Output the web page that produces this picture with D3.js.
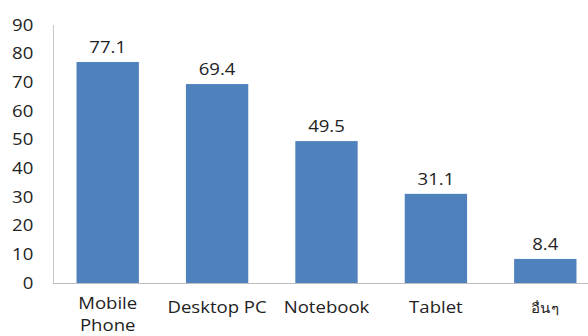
<!DOCTYPE html>
<html>
<head>
<meta charset="utf-8">
<script src="https://cdn.jsdelivr.net/npm/d3@7"></script>
<style>
  html, body { margin: 0; padding: 0; background: #fff; }
  svg { display: block; }
  text { font-family: "Open Sans", "Noto Sans", sans-serif; fill: #222; }
</style>
</head>
<body>
<svg id="chart" width="588" height="336"></svg>
<script>
// Device usage (%)
const categories = ["Mobile Phone", "Desktop PC", "Notebook", "Tablet", "อื่นๆ"];
const values = [77.1, 69.4, 49.5, 31.1, 8.4];
const yTicks = [0, 10, 20, 30, 40, 50, 60, 70, 80, 90];

const svg = d3.select("#chart");
const plot = { left: 53, right: 600, top: 25, bottom: 283 };
const stretch = 1.16; // text is set slightly wide

const x = d3.scaleBand().domain(categories).range([plot.left, plot.right]).paddingInner(0.43).paddingOuter(0.215);
const y = d3.scaleLinear().domain([0, 90]).range([plot.bottom, plot.top]);

// axis lines
svg.append("line").attr("x1", plot.left + 0.5).attr("x2", plot.left + 0.5).attr("y1", plot.top).attr("y2", plot.bottom)
  .attr("stroke", "#c8c8c8").attr("stroke-width", 1);
svg.append("line").attr("x1", plot.left).attr("x2", 588).attr("y1", plot.bottom + 0.5).attr("y2", plot.bottom + 0.5)
  .attr("stroke", "#bdbdbd").attr("stroke-width", 1);

// y tick labels
const yAxis = d3.axisLeft(y).tickValues(yTicks).tickSize(0).tickPadding(17);
const gy = svg.append("g").attr("transform", `translate(${plot.left},0)`).call(yAxis);
gy.select(".domain").remove();
gy.selectAll("text")
  .attr("font-size", 16)
  .attr("font-family", "Open Sans, sans-serif")
  .attr("fill", "#222")
  .attr("transform", `scale(${stretch},1)`);

// bars
svg.selectAll("rect.bar").data(values).enter().append("rect")
  .attr("class", "bar")
  .attr("x", (d, i) => x(categories[i]))
  .attr("width", x.bandwidth())
  .attr("y", d => y(d))
  .attr("height", d => y(0) - y(d))
  .attr("fill", "#4f81bd");

// value labels
svg.selectAll("text.val").data(values).enter().append("text")
  .attr("class", "val")
  .attr("transform", (d, i) => `translate(${x(categories[i]) + x.bandwidth() / 2},${y(d) - 9}) scale(${stretch},1)`)
  .attr("text-anchor", "middle")
  .attr("font-size", 16)
  .text(d => d.toFixed(1));

// category labels (two-line label sits a little higher to fit)
const catG = svg.selectAll("g.cat").data(categories).enter().append("g")
  .attr("class", "cat")
  .attr("transform", d => `translate(${x(d) + x.bandwidth() / 2},0) scale(${stretch},1)`);
catG.each(function(d) {
  const g = d3.select(this);
  const isThai = /[\u0E00-\u0E7F]/.test(d);
  const lines = d === "Mobile Phone" ? ["Mobile", "Phone"] : [d];
  const first = lines.length > 1 ? 309.5 : 313;
  lines.forEach((t, j) => {
    g.append("text")
      .attr("y", first + j * 22)
      .attr("text-anchor", "middle")
      .attr("font-size", isThai ? 13 : 16)
      .attr("fill", isThai ? "#555" : "#222")
      .text(t);
  });
});
</script>
</body>
</html>
